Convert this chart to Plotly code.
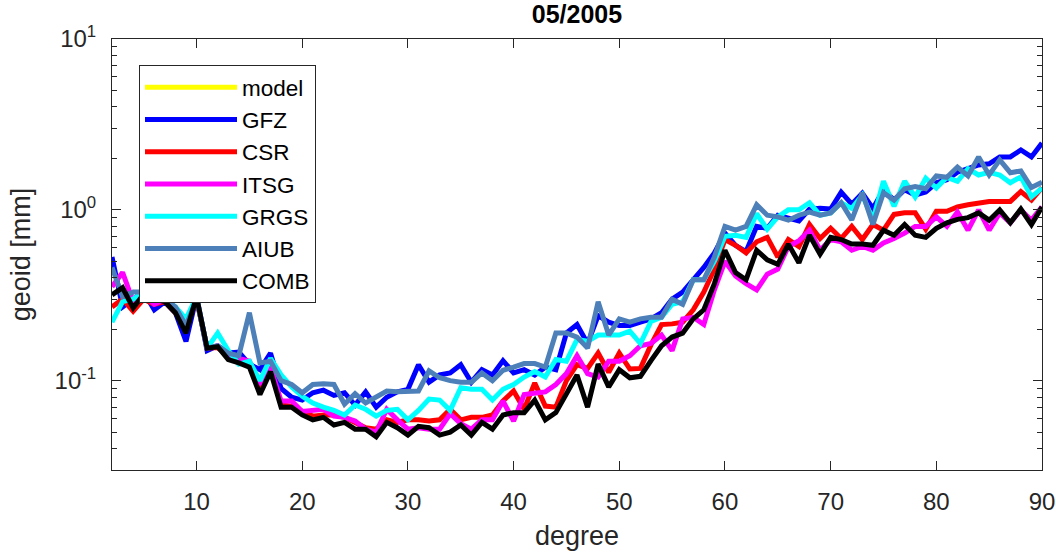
import plotly.graph_objects as go

degree = list(range(2, 91))

model = [None]  # model curve is not visible in the reference (legend entry only)

GFZ = [0.53, 0.27, 0.30, 0.33, 0.26, 0.29, 0.25, 0.17, 0.31, 0.15,
       0.16, 0.145, 0.147, 0.125, 0.116, 0.145, 0.090, 0.080, 0.077, 0.085,
       0.088, 0.082, 0.085, 0.072, 0.086, 0.070, 0.080, 0.086, 0.089, 0.124,
       0.098, 0.108, 0.111, 0.124, 0.098, 0.116, 0.108, 0.131, 0.111, 0.116,
       0.108, 0.120, 0.116, 0.190, 0.213, 0.165, 0.240, 0.220, 0.210, 0.210,
       0.220, 0.230, 0.250, 0.300, 0.330, 0.390, 0.460, 0.560, 0.730, 0.620,
       0.570, 0.800, 0.780, 0.930, 0.900, 0.860, 1.01, 1.02, 1.01, 1.27,
       1.08, 1.25, 1.02, 1.31, 1.14, 1.31, 1.22, 1.27, 1.44, 1.50,
       1.66, 1.75, 1.83, 1.86, 2.04, 2.04, 2.24, 2.04, 2.46]

CSR = [0.27, 0.30, 0.255, 0.30, 0.28, 0.29, 0.25, 0.20, 0.30, 0.156,
       0.156, 0.140, 0.132, 0.125, 0.090, 0.118, 0.072, 0.071, 0.066, 0.062,
       0.063, 0.063, 0.061, 0.057, 0.053, 0.052, 0.059, 0.057, 0.059, 0.059,
       0.058, 0.059, 0.068, 0.059, 0.061, 0.061, 0.063, 0.076, 0.087, 0.068,
       0.097, 0.071, 0.070, 0.100, 0.124, 0.118, 0.145, 0.112, 0.145, 0.117,
       0.118, 0.162, 0.213, 0.215, 0.220, 0.260, 0.330, 0.450, 0.670, 0.620,
       0.560, 0.650, 0.690, 0.530, 0.670, 0.610, 0.820, 0.680, 0.780, 0.680,
       0.800, 0.670, 0.820, 0.760, 0.940, 0.960, 0.960, 0.770, 0.980, 0.980,
       1.04, 1.07, 1.10, 1.12, 1.12, 1.12, 1.28, 1.14, 1.35]

ITSG = [0.355, 0.43, 0.29, 0.32, 0.28, 0.30, 0.26, 0.21, 0.31, 0.155,
        0.16, 0.14, 0.135, 0.13, 0.095, 0.12, 0.076, 0.076, 0.066, 0.067,
        0.068, 0.062, 0.061, 0.058, 0.052, 0.050, 0.068, 0.059, 0.052, 0.053,
        0.052, 0.052, 0.064, 0.056, 0.052, 0.059, 0.059, 0.076, 0.058, 0.083,
        0.085, 0.086, 0.095, 0.110, 0.140, 0.110, 0.105, 0.130, 0.130, 0.140,
        0.160, 0.165, 0.185, 0.150, 0.230, 0.235, 0.213, 0.340, 0.500, 0.410,
        0.370, 0.340, 0.420, 0.450, 0.610, 0.660, 0.760, 0.580, 0.670, 0.650,
        0.580, 0.610, 0.580, 0.640, 0.680, 0.730, 0.800, 0.800, 0.910, 0.800,
        0.970, 0.760, 1.00, 0.760, 0.960, 0.840, 1.00, 0.870, 1.04]

GRGS = [0.22, 0.29, 0.30, 0.33, 0.32, 0.30, 0.27, 0.23, 0.31, 0.155,
        0.19, 0.15, 0.125, 0.13, 0.10, 0.135, 0.108, 0.092, 0.081, 0.074,
        0.070, 0.067, 0.063, 0.072, 0.068, 0.062, 0.067, 0.068, 0.059, 0.067,
        0.078, 0.077, 0.067, 0.091, 0.089, 0.089, 0.077, 0.089, 0.095, 0.105,
        0.113, 0.105, 0.133, 0.130, 0.174, 0.170, 0.185, 0.185, 0.185, 0.195,
        0.165, 0.222, 0.235, 0.280, 0.290, 0.390, 0.390, 0.500, 0.700, 0.710,
        0.690, 0.950, 0.770, 0.910, 1.00, 1.00, 1.10, 0.93, 0.96, 1.10,
        1.02, 1.22, 0.874, 1.47, 1.05, 1.47, 1.19, 1.53, 1.34, 1.55,
        1.47, 1.74, 1.60, 1.66, 1.60, 1.44, 1.56, 1.19, 1.34]

AIUB = [0.46, 0.31, 0.33, 0.33, 0.30, 0.30, 0.27, 0.21, 0.30, 0.155,
        0.16, 0.145, 0.14, 0.25, 0.127, 0.13, 0.10, 0.095, 0.085, 0.095,
        0.096, 0.095, 0.073, 0.084, 0.074, 0.080, 0.087, 0.086, 0.087, 0.087,
        0.114, 0.104, 0.100, 0.098, 0.098, 0.111, 0.100, 0.115, 0.120, 0.126,
        0.126, 0.120, 0.190, 0.190, 0.180, 0.155, 0.290, 0.185, 0.230, 0.220,
        0.230, 0.235, 0.235, 0.300, 0.280, 0.390, 0.390, 0.530, 0.800, 0.760,
        0.800, 1.07, 0.93, 0.91, 0.87, 0.93, 0.97, 0.93, 0.96, 1.10,
        0.874, 1.26, 0.82, 1.26, 1.14, 1.33, 1.37, 1.33, 1.58, 1.55,
        1.78, 1.58, 2.04, 1.60, 1.96, 1.65, 1.69, 1.35, 1.45]

COMB = [0.318, 0.35, 0.267, 0.32, 0.30, 0.29, 0.25, 0.19, 0.31, 0.155,
        0.158, 0.133, 0.127, 0.120, 0.083, 0.113, 0.070, 0.070, 0.063, 0.059,
        0.061, 0.055, 0.057, 0.052, 0.052, 0.047, 0.057, 0.053, 0.048, 0.054,
        0.053, 0.048, 0.050, 0.055, 0.048, 0.057, 0.052, 0.063, 0.065, 0.065,
        0.077, 0.059, 0.065, 0.085, 0.108, 0.070, 0.125, 0.092, 0.116, 0.104,
        0.106, 0.131, 0.160, 0.180, 0.190, 0.230, 0.260, 0.370, 0.580, 0.430,
        0.390, 0.580, 0.510, 0.480, 0.630, 0.490, 0.710, 0.550, 0.690, 0.670,
        0.630, 0.630, 0.620, 0.760, 0.710, 0.820, 0.710, 0.690, 0.780, 0.840,
        0.880, 0.900, 0.960, 0.870, 1.00, 0.840, 1.01, 0.820, 1.04]

series = [
    ("model", model, "#FFFF00"),
    ("GFZ", GFZ, "#0000FF"),
    ("CSR", CSR, "#FF0000"),
    ("ITSG", ITSG, "#FF00FF"),
    ("GRGS", GRGS, "#00FFFF"),
    ("AIUB", AIUB, "#4D80B8"),
    ("COMB", COMB, "#000000"),
]

FONT = "Liberation Sans"
AX = "#262626"

fig = go.Figure()
for name, vals, col in series:
    fig.add_trace(go.Scatter(
        x=degree[:len(vals)], y=vals, name=name, mode="lines",
        line=dict(color=col, width=5), showlegend=True,
    ))

fig.update_layout(
    width=1056, height=556,
    margin=dict(l=112, r=14, t=39, b=86, autoexpand=False),
    paper_bgcolor="white", plot_bgcolor="white",
    font=dict(family=FONT, color=AX),
    title=dict(text="<b>05/2005</b>", x=(112 + 1042) / 2 / 1056, xanchor="center",
               yref="container", y=1 - 14 / 556, yanchor="middle",
               font=dict(size=25, color="#000000", family=FONT)),
    showlegend=True,
    legend=dict(x=27 / 930, y=(470 - 65) / 431, xanchor="left", yanchor="top",
                bgcolor="white", bordercolor=AX, borderwidth=1,
                font=dict(size=22.5, color="#000000", family=FONT),
                itemwidth=92, tracegroupgap=0),
)

fig.update_xaxes(
    range=[2, 90], tickvals=[10, 20, 30, 40, 50, 60, 70, 80, 90],
    ticks="inside", ticklen=9, tickcolor=AX, tickwidth=1,
    showline=True, linecolor=AX, linewidth=1, mirror="ticks",
    showgrid=False, zeroline=False, automargin=False,
    tickfont=dict(size=24, color=AX), ticklabelstandoff=10,
    title=dict(text="degree", font=dict(size=27, color=AX), standoff=12),
)

fig.update_yaxes(
    type="log", range=[-1.5229, 1],
    tickvals=[0.1, 1, 10],
    ticktext=["10<sup>-1</sup>", "10<sup>0</sup>", "10<sup>1</sup>"],
    ticks="inside", ticklen=9, tickcolor=AX, tickwidth=1,
    minor=dict(ticks="inside", ticklen=5, tickcolor=AX, showgrid=False,
               tickvals=[0.03, 0.04, 0.05, 0.06, 0.07, 0.08, 0.09,
                         0.2, 0.3, 0.4, 0.5, 0.6, 0.7, 0.8, 0.9,
                         2, 3, 4, 5, 6, 7, 8, 9]),
    showline=True, linecolor=AX, linewidth=1, mirror="ticks",
    showgrid=False, zeroline=False, automargin=False,
    tickfont=dict(size=24, color=AX), ticklabelstandoff=10,
    title=dict(text="geoid [mm]", font=dict(size=27, color=AX), standoff=16),
)

fig.write_html("out.html")
